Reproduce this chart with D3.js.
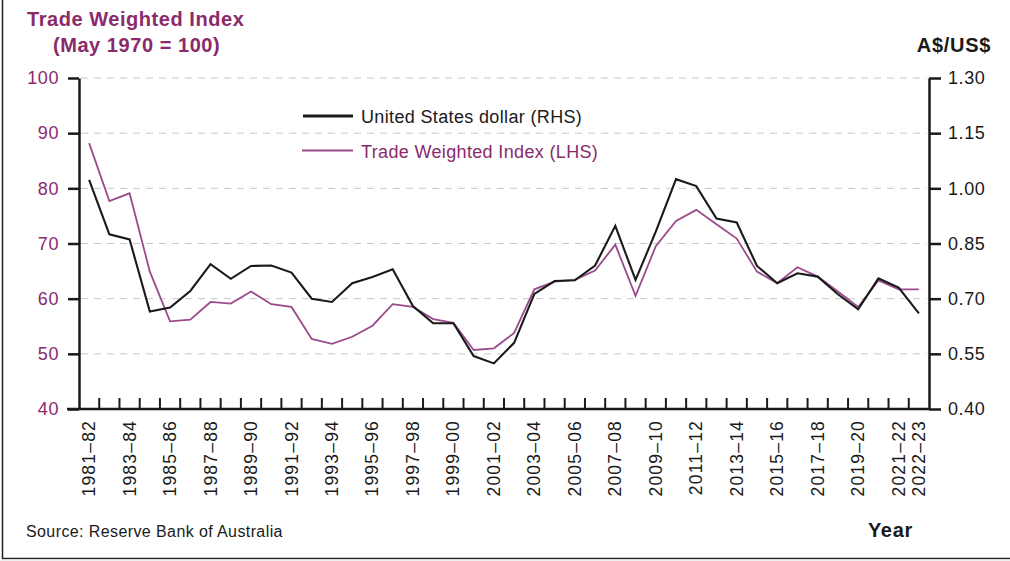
<!DOCTYPE html>
<html>
<head>
<meta charset="utf-8">
<script src="https://cdn.jsdelivr.net/npm/d3@7"></script>
<style>
  body { margin: 0; background: #fff; }
  svg text { font-family: "Liberation Sans", Arial, sans-serif; }
</style>
</head>
<body>
<svg id="chart" width="1010" height="561"></svg>
<script>
// financial years 1981-82 .. 2022-23
var years = [];
for (var y = 1981; y <= 2022; y++) {
  years.push(y + "\u2013" + String(y + 1).slice(2));
}

// Trade Weighted Index (LHS)
var twi = [88.2, 77.7, 79.1, 64.9, 55.9, 56.2, 59.4, 59.1, 61.3, 59.0,
           58.5, 52.7, 51.8, 53.1, 55.1, 59.0, 58.5, 56.3, 55.6, 50.7,
           51.0, 53.8, 61.7, 63.1, 63.4, 65.1, 69.8, 60.5, 69.5, 74.1,
           76.1, 73.5, 70.9, 64.9, 62.8, 65.7, 64.0, 61.3, 58.5, 63.3,
           61.7, 61.7];

// United States dollar (RHS)
var usd = [1.023, 0.875, 0.861, 0.665, 0.676, 0.721, 0.794, 0.754, 0.789, 0.790,
           0.771, 0.700, 0.691, 0.742, 0.759, 0.780, 0.680, 0.633, 0.633, 0.544,
           0.524, 0.580, 0.713, 0.748, 0.750, 0.790, 0.898, 0.751, 0.882, 1.025,
           1.006, 0.918, 0.907, 0.789, 0.742, 0.769, 0.760, 0.712, 0.671, 0.755,
           0.730, 0.660];

var leftTicks = [40, 50, 60, 70, 80, 90, 100];
var rightTicks = [0.40, 0.55, 0.70, 0.85, 1.00, 1.15, 1.30];
var tickYears = years.filter(function(d, i) { return i % 2 == 0 || i == years.length - 1; });

var purple = "#9b4b8b";
var titlePurple = "#8a2a6c";

var svg = d3.select("#chart");
var plotLeft = 79, plotRight = 929, plotTop = 78, plotBottom = 409;

var x = d3.scaleBand().domain(years).range([plotLeft, plotRight]);
var yL = d3.scaleLinear().domain([40, 100]).range([plotBottom, plotTop]);
var yR = d3.scaleLinear().domain([0.40, 1.30]).range([plotBottom, plotTop]);

// frame lines
svg.append("line").attr("x1", 2.5).attr("x2", 2.5).attr("y1", 0).attr("y2", 559)
  .attr("stroke", "#222").attr("stroke-width", 1.5);
svg.append("line").attr("x1", 2).attr("x2", 1010).attr("y1", 558.5).attr("y2", 558.5)
  .attr("stroke", "#222").attr("stroke-width", 1.5);
svg.append("rect").attr("x", 0).attr("y", 559.5).attr("width", 1010).attr("height", 2).attr("fill", "#eee");

// gridlines
svg.append("g").selectAll("line")
  .data(leftTicks.slice(1))
  .enter().append("line")
  .attr("x1", plotLeft + 2).attr("x2", plotRight - 2)
  .attr("y1", function(d) { return yL(d); })
  .attr("y2", function(d) { return yL(d); })
  .attr("stroke", "#c8c8c8").attr("stroke-width", 1)
  .attr("stroke-dasharray", "7,6");

// left axis
var gL = svg.append("g").attr("transform", "translate(" + plotLeft + ",0)")
  .call(d3.axisLeft(yL).tickValues(leftTicks).tickSize(11).tickSizeOuter(0).tickPadding(9));
gL.select(".domain").attr("stroke", "#1a1a1a").attr("stroke-width", 2.5);
gL.selectAll(".tick line").attr("stroke", "#1a1a1a").attr("stroke-width", 2.5);
gL.selectAll(".tick text").attr("fill", titlePurple)
  .style("font-size", "18px").style("letter-spacing", "0.6px");

// right axis
var gR = svg.append("g").attr("transform", "translate(" + plotRight + ",0)")
  .call(d3.axisRight(yR).tickValues(rightTicks).tickFormat(d3.format(".2f"))
    .tickSize(12).tickSizeOuter(0).tickPadding(7));
gR.select(".domain").attr("stroke", "#1a1a1a").attr("stroke-width", 2.5);
gR.selectAll(".tick line").attr("stroke", "#1a1a1a").attr("stroke-width", 2.5);
gR.selectAll(".tick text").attr("fill", "#1a1a1a")
  .style("font-size", "18px").style("letter-spacing", "0.6px");

// bottom axis line + interior ticks at band edges
svg.append("line").attr("x1", plotLeft - 12).attr("x2", plotRight + 1)
  .attr("y1", plotBottom).attr("y2", plotBottom)
  .attr("stroke", "#1a1a1a").attr("stroke-width", 2.5);
svg.append("g").selectAll("line")
  .data(years.slice(1))
  .enter().append("line")
  .attr("x1", function(d) { return x(d); })
  .attr("x2", function(d) { return x(d); })
  .attr("y1", plotBottom).attr("y2", plotBottom - 11)
  .attr("stroke", "#1a1a1a").attr("stroke-width", 2);

// x labels, rotated
svg.append("g").selectAll("text")
  .data(tickYears)
  .enter().append("text")
  .attr("transform", function(d) {
    return "translate(" + (x(d) + x.bandwidth() / 2 + 6) + "," + (plotBottom + 11) + ") rotate(-90)";
  })
  .attr("text-anchor", "end")
  .style("font-size", "17.5px")
  .style("letter-spacing", "1.2px")
  .attr("fill", "#1a1a1a")
  .text(function(d) { return d; });

// lines
var lineL = d3.line()
  .x(function(d, i) { return x(years[i]) + x.bandwidth() / 2; })
  .y(function(d) { return yL(d); });
var lineR = d3.line()
  .x(function(d, i) { return x(years[i]) + x.bandwidth() / 2; })
  .y(function(d) { return yR(d); });

svg.append("path").datum(twi).attr("d", lineL)
  .attr("fill", "none").attr("stroke", purple).attr("stroke-width", 1.8);
svg.append("path").datum(usd).attr("d", lineR)
  .attr("fill", "none").attr("stroke", "#1a1a1a").attr("stroke-width", 2.1);

// legend
svg.append("line").attr("x1", 303).attr("x2", 353).attr("y1", 116).attr("y2", 116)
  .attr("stroke", "#1a1a1a").attr("stroke-width", 2.8);
svg.append("text").attr("x", 361).attr("y", 123).style("font-size", "18px").style("letter-spacing", "0.35px")
  .attr("fill", "#1a1a1a").text("United States dollar (RHS)");
svg.append("line").attr("x1", 302).attr("x2", 353).attr("y1", 150.5).attr("y2", 150.5)
  .attr("stroke", purple).attr("stroke-width", 1.8);
svg.append("text").attr("x", 361).attr("y", 158).style("font-size", "18px").style("letter-spacing", "0.35px")
  .attr("fill", titlePurple).text("Trade Weighted Index (LHS)");

// titles
svg.append("text").attr("x", 27).attr("y", 26).style("font-size", "20px").style("font-weight", "bold")
  .style("letter-spacing", "0.55px")
  .attr("fill", titlePurple).text("Trade Weighted Index");
svg.append("text").attr("x", 53).attr("y", 52).style("font-size", "20px").style("font-weight", "bold")
  .style("letter-spacing", "0.55px")
  .attr("fill", titlePurple).text("(May 1970 = 100)");
svg.append("text").attr("x", 991).attr("y", 52).attr("text-anchor", "end")
  .style("font-size", "20px").style("font-weight", "bold").style("letter-spacing", "0.7px")
  .attr("fill", "#1a1a1a").text("A$/US$");
svg.append("text").attr("x", 913).attr("y", 537).attr("text-anchor", "end")
  .style("font-size", "20px").style("font-weight", "bold").style("letter-spacing", "0.7px")
  .attr("fill", "#1a1a1a").text("Year");
svg.append("text").attr("x", 26).attr("y", 537).style("font-size", "16px").style("letter-spacing", "0.4px")
  .attr("fill", "#1a1a1a").text("Source: Reserve Bank of Australia");
</script>
</body>
</html>
